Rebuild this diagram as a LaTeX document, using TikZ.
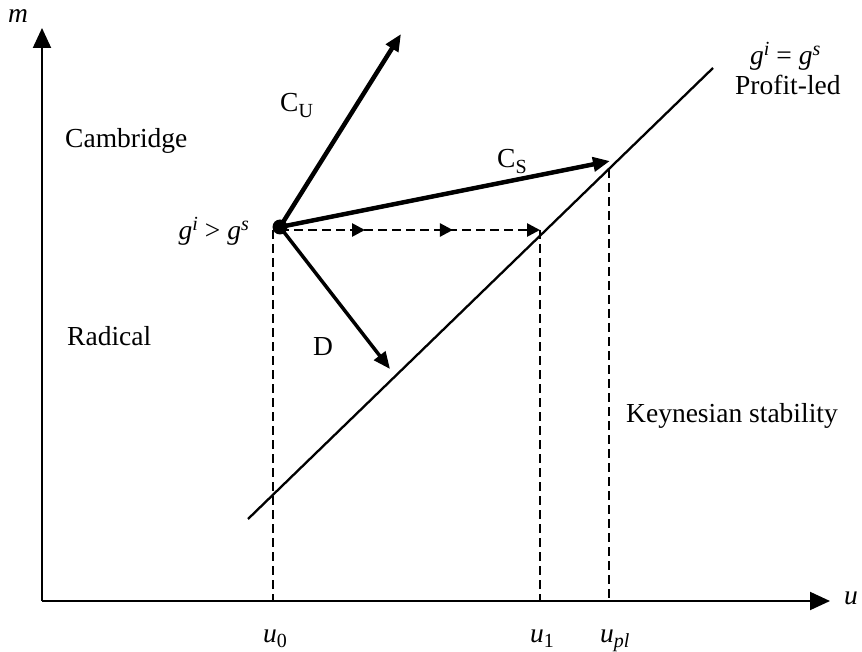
\documentclass[tikz,border=0pt]{standalone}
\usepackage{fontspec}
\setmainfont{Liberation Serif}
\usetikzlibrary{arrows.meta,decorations.markings}
\newcommand\lsub[1]{\raisebox{-0.2em}{\fontsize{20}{20}\selectfont #1}}
\newcommand\lsup[1]{\raisebox{0.36em}{\fontsize{20}{20}\selectfont #1}}
\begin{document}
\begin{tikzpicture}[x=1pt,y=-1pt,
  lbl/.style={inner sep=0pt, font=\fontsize{27.5}{30}\selectfont},
  axis/.style={line width=2pt, -{Triangle[length=20pt,width=18pt]}},
  bigarrow/.style={line width=4.5pt, -{Triangle[length=17pt,width=14pt]}},
  medarrow/.style={line width=3.5pt, -{Triangle[length=17pt,width=14pt]}},
  dashline/.style={line width=2.6pt, dash pattern=on 9pt off 5pt},
  dasharrow/.style={dashline, -{Triangle[length=13pt,width=13pt]},
    postaction={decorate},
    decoration={markings,
      mark=at position 0.327 with {\arrow{Triangle[length=13pt,width=13pt]}},
      mark=at position 0.665 with {\arrow{Triangle[length=13pt,width=13pt]}}}},
  eqline/.style={line width=2.3pt},
  dotnode/.style={circle, fill=black, inner sep=0pt, minimum size=15pt}]
\useasboundingbox (0,0) rectangle (862,652);

% axes
\coordinate (O) at (42,601);
\coordinate (ytop) at (42,28);
\coordinate (xend) at (830,601);
\draw[axis] (O) -- (ytop);
\draw[axis] (O) -- (xend);
\node[lbl, font=\fontsize{27.5}{30}\selectfont\itshape] (mlab) at (18,16) {m};
\node[lbl, font=\fontsize{27.5}{30}\selectfont\itshape] (ulab) at (851,598) {u};

% equilibrium line
\coordinate (L1) at (248,519);
\coordinate (L2) at (713,68);
\draw[eqline] (L1) -- (L2);

% point
\node[dotnode] (P) at (280,227) {};
\coordinate (CUt) at (401,34);
\coordinate (CSt) at (610,161);
\coordinate (Dt) at (390,369);
\draw[bigarrow] (P.center) -- (CUt);
\draw[bigarrow] (P.center) -- (CSt);
\draw[medarrow] (P.center) -- (Dt);

% dashed lines
\coordinate (h0) at (280,230);
\coordinate (h1) at (540,230);
\draw[dasharrow] (h0) -- (h1);
\coordinate (v0t) at (273,230);
\coordinate (v0b) at (273,601);
\coordinate (v1b) at (540,601);
\coordinate (v2t) at (609,169);
\coordinate (v2b) at (609,601);
\draw[dashline] (v0t) -- (v0b);
\draw[dashline] (h1) -- (v1b);
\draw[dashline] (v2t) -- (v2b);

% labels
\node[lbl, anchor=base west] (cam) at (65,148) {Cambridge};
\node[lbl, anchor=base west] (rad) at (67,345) {Radical};
\node[lbl, anchor=base west] (cu) at (280,112) {C\lsub{U}};
\node[lbl, anchor=base west] (cs) at (497,168) {C\lsub{S}};
\node[lbl, anchor=base west] (dl) at (313,355) {D};
\node[lbl, anchor=base east] (gg) at (249,240) {\textit{g}\lsup{\textit{i}} > \textit{g}\lsup{\textit{s}}};
\node[lbl, anchor=base west] (eq) at (750,65) {\textit{g}\lsup{\textit{i}} = \textit{g}\lsup{\textit{s}}};
\node[lbl, anchor=base west] (pl) at (735,95) {Profit-led};
\node[lbl, anchor=base west] (ks) at (626,422) {Keynesian stability};
\node[lbl, anchor=base west] (u0) at (263,642) {\textit{u}\lsub{0}};
\node[lbl, anchor=base west] (u1) at (530,642) {\textit{u}\lsub{1}};
\node[lbl, anchor=base west] (upl) at (600,642) {\textit{u}\lsub{\textit{pl}}};
\end{tikzpicture}
\end{document}
